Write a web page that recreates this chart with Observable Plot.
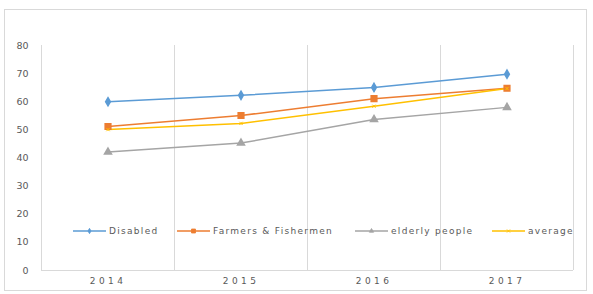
<!DOCTYPE html>
<html><head><meta charset="utf-8">
<script src="https://cdn.jsdelivr.net/npm/d3@7"></script>
<script src="https://cdn.jsdelivr.net/npm/@observablehq/plot@0.6"></script>
<style>
body{margin:0;background:#fff;font-family:"DejaVu Sans",sans-serif;}
#wrap{position:relative;width:593px;height:294px;overflow:hidden;}
#frame{position:absolute;left:4px;top:9px;width:583px;height:282px;border:1px solid #d9d9d9;box-sizing:border-box;}
#chart{position:absolute;left:0;top:0;}
g[aria-label="x-axis tick label"] text{letter-spacing:3.4px;}
.leg{position:absolute;top:225px;height:12px;font-size:9px;letter-spacing:1.3px;color:#595959;display:flex;align-items:center;white-space:nowrap;}
.leg svg{margin-right:3px;}
</style></head>
<body><div id="wrap"><div id="frame"></div><div id="chart"></div></div>
<script>
const years = [2014, 2015, 2016, 2017];
const seriesNames = ["Disabled", "Farmers & Fishermen", "elderly people", "average"];
const disabled = [60.0, 62.3, 65.1, 69.8];
const farmers = [51.2, 55.1, 61.1, 64.8];
const elderly = [42.1, 45.3, 53.7, 58.0];
const average = [50.1, 52.3, 58.4, 64.7];
const yTicks = [0, 10, 20, 30, 40, 50, 60, 70, 80];
const colors = ["#5b9bd5", "#ed7d31", "#a5a5a5", "#ffc000"];
const symbols = ["diamond", "square", "triangle", "times"];
const markerR = [2.5, 3.2, 2.6, 1.6];

const values = [disabled, farmers, elderly, average];
const data = [];
seriesNames.forEach((s, i) => years.forEach((y, j) => data.push({series: s, year: y, value: values[i][j], r: markerR[i]})));
const bounds = [years[0] - 0.5, ...years.map(y => y + 0.5)];

const color = {domain: seriesNames, range: colors};
const plot = Plot.plot({
  width: 593, height: 294,
  marginLeft: 41, marginRight: 20, marginTop: 45, marginBottom: 24,
  style: {fontFamily: "DejaVu Sans, sans-serif", fontSize: "9.5px", color: "#595959", background: "transparent"},
  x: {domain: [bounds[0], bounds[bounds.length - 1]], label: null},
  y: {domain: [0, 80], label: null},
  r: {type: "identity"},
  color,
  symbol: {domain: seriesNames, range: symbols},
  marks: [
    Plot.ruleX(bounds, {y1: 0, y2: 80, stroke: "#d9d9d9", strokeWidth: 1}),
    Plot.ruleY([0], {stroke: "#d9d9d9"}),
    Plot.axisY({ticks: yTicks, tickSize: 0, tickPadding: 13, fontSize: 9.5, label: null}),
    Plot.axisX({ticks: years, tickFormat: d => String(d), tickSize: 0, tickPadding: 7, fontSize: 9, label: null}),
    Plot.line(data, {x: "year", y: "value", z: "series", stroke: "series", strokeWidth: 1.5}),
    Plot.dot(data.filter(d => d.series !== "average"), {x: "year", y: "value", symbol: "series", fill: "series", stroke: "series", r: "r"}),
    Plot.dot(data.filter(d => d.series === "average"), {x: "year", y: "value", symbol: "series", stroke: "series", r: "r", strokeWidth: 1})
  ]
});
document.getElementById("chart").appendChild(plot);

// legend
const legLeft = [73, 177, 355, 492];
const wrap = document.getElementById("wrap");
seriesNames.forEach((s, i) => {
  const d = document.createElement("div");
  d.className = "leg";
  d.style.left = legLeft[i] + "px";
  const sym = d3.symbol(
    i === 0 ? d3.symbolDiamond : i === 1 ? d3.symbolSquare : i === 2 ? d3.symbolTriangle : d3.symbolTimes,
    i === 1 ? 16 : 8)();
  d.innerHTML = `<svg width="33" height="12"><line x1="0" x2="33" y1="6" y2="6" stroke="${colors[i]}" stroke-width="1.4"/>` +
    `<path transform="translate(16.5,6)" d="${sym}" fill="${i === 3 ? "none" : colors[i]}" stroke="${colors[i]}" stroke-width="0.8"/></svg>` +
    `<span>${s}</span>`;
  wrap.appendChild(d);
});
</script></body></html>
